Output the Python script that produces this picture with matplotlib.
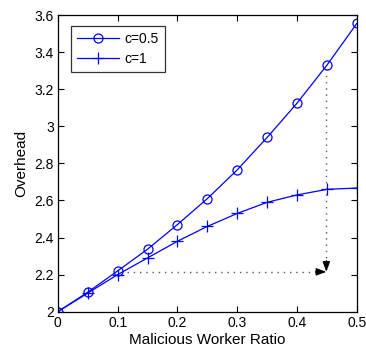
import matplotlib
matplotlib.use("Agg")
import matplotlib.pyplot as plt

plt.rcParams['font.family'] = ['Liberation Sans', 'DejaVu Sans']

ratio = [0, 0.05, 0.1, 0.15, 0.2, 0.25, 0.3, 0.35, 0.4, 0.45, 0.5]
overhead_c05 = [2.0, 2.105, 2.22, 2.337, 2.47, 2.61, 2.765, 2.94, 3.125, 3.33, 3.555]
overhead_c1 = [2.0, 2.10, 2.20, 2.29, 2.38, 2.46, 2.53, 2.59, 2.63, 2.66, 2.667]

xticks = [0, 0.1, 0.2, 0.3, 0.4, 0.5]
yticks = [2, 2.2, 2.4, 2.6, 2.8, 3, 3.2, 3.4, 3.6]

fig = plt.figure(figsize=(3.66, 3.51), dpi=100)
ax = fig.add_axes([0.158, 0.112, 0.817, 0.845])

ax.plot(ratio, overhead_c05, color='blue', lw=0.9, marker='o', ms=6.5,
        mfc='none', mec='blue', mew=0.9, label='c=0.5')
ax.plot(ratio, overhead_c1, color='blue', lw=0.9, marker='+', ms=8,
        mew=0.9, label='c=1')

# dotted guide lines with arrow heads
hx, hy = 0.449, 2.215
ax.plot([0.115, hx - 0.01], [hy, hy], color='0.35', ls=(0, (1, 3.5)), lw=1)
ax.plot([hx, hx], [overhead_c05[9] - 0.02, hy + 0.03], color='0.35',
        ls=(0, (1, 3.5)), lw=1)
head = dict(arrowstyle='-|>,head_length=0.6,head_width=0.22', color='black',
            lw=0.9, shrinkA=0, shrinkB=0)
ax.annotate('', xy=(hx, hy), xytext=(hx - 0.018, hy), arrowprops=head)
ax.annotate('', xy=(hx, hy), xytext=(hx, hy + 0.06), arrowprops=head)

ax.set_xlim(0, 0.5)
ax.set_ylim(2, 3.6)
ax.set_xticks(xticks)
ax.set_xticklabels(['0', '0.1', '0.2', '0.3', '0.4', '0.5'])
ax.set_yticks(yticks)
ax.set_yticklabels(['2', '2.2', '2.4', '2.6', '2.8', '3', '3.2', '3.4', '3.6'])
ax.tick_params(direction='in', top=True, right=True, labelsize=10,
               length=4, width=0.8, pad=3)
for s in ax.spines.values():
    s.set_linewidth(0.9)

ax.set_xlabel('Malicious Worker Ratio', fontsize=11, labelpad=2)
ax.set_ylabel('Overhead', fontsize=11, labelpad=4)

leg = ax.legend(loc='upper left', bbox_to_anchor=(0.043, 0.963), fontsize=10,
                borderaxespad=0, fancybox=False, edgecolor='black',
                handlelength=3, borderpad=0.45, labelspacing=0.4,
                handletextpad=0.4)
leg.get_frame().set_linewidth(0.9)

fig.savefig('out.png', dpi=100)
